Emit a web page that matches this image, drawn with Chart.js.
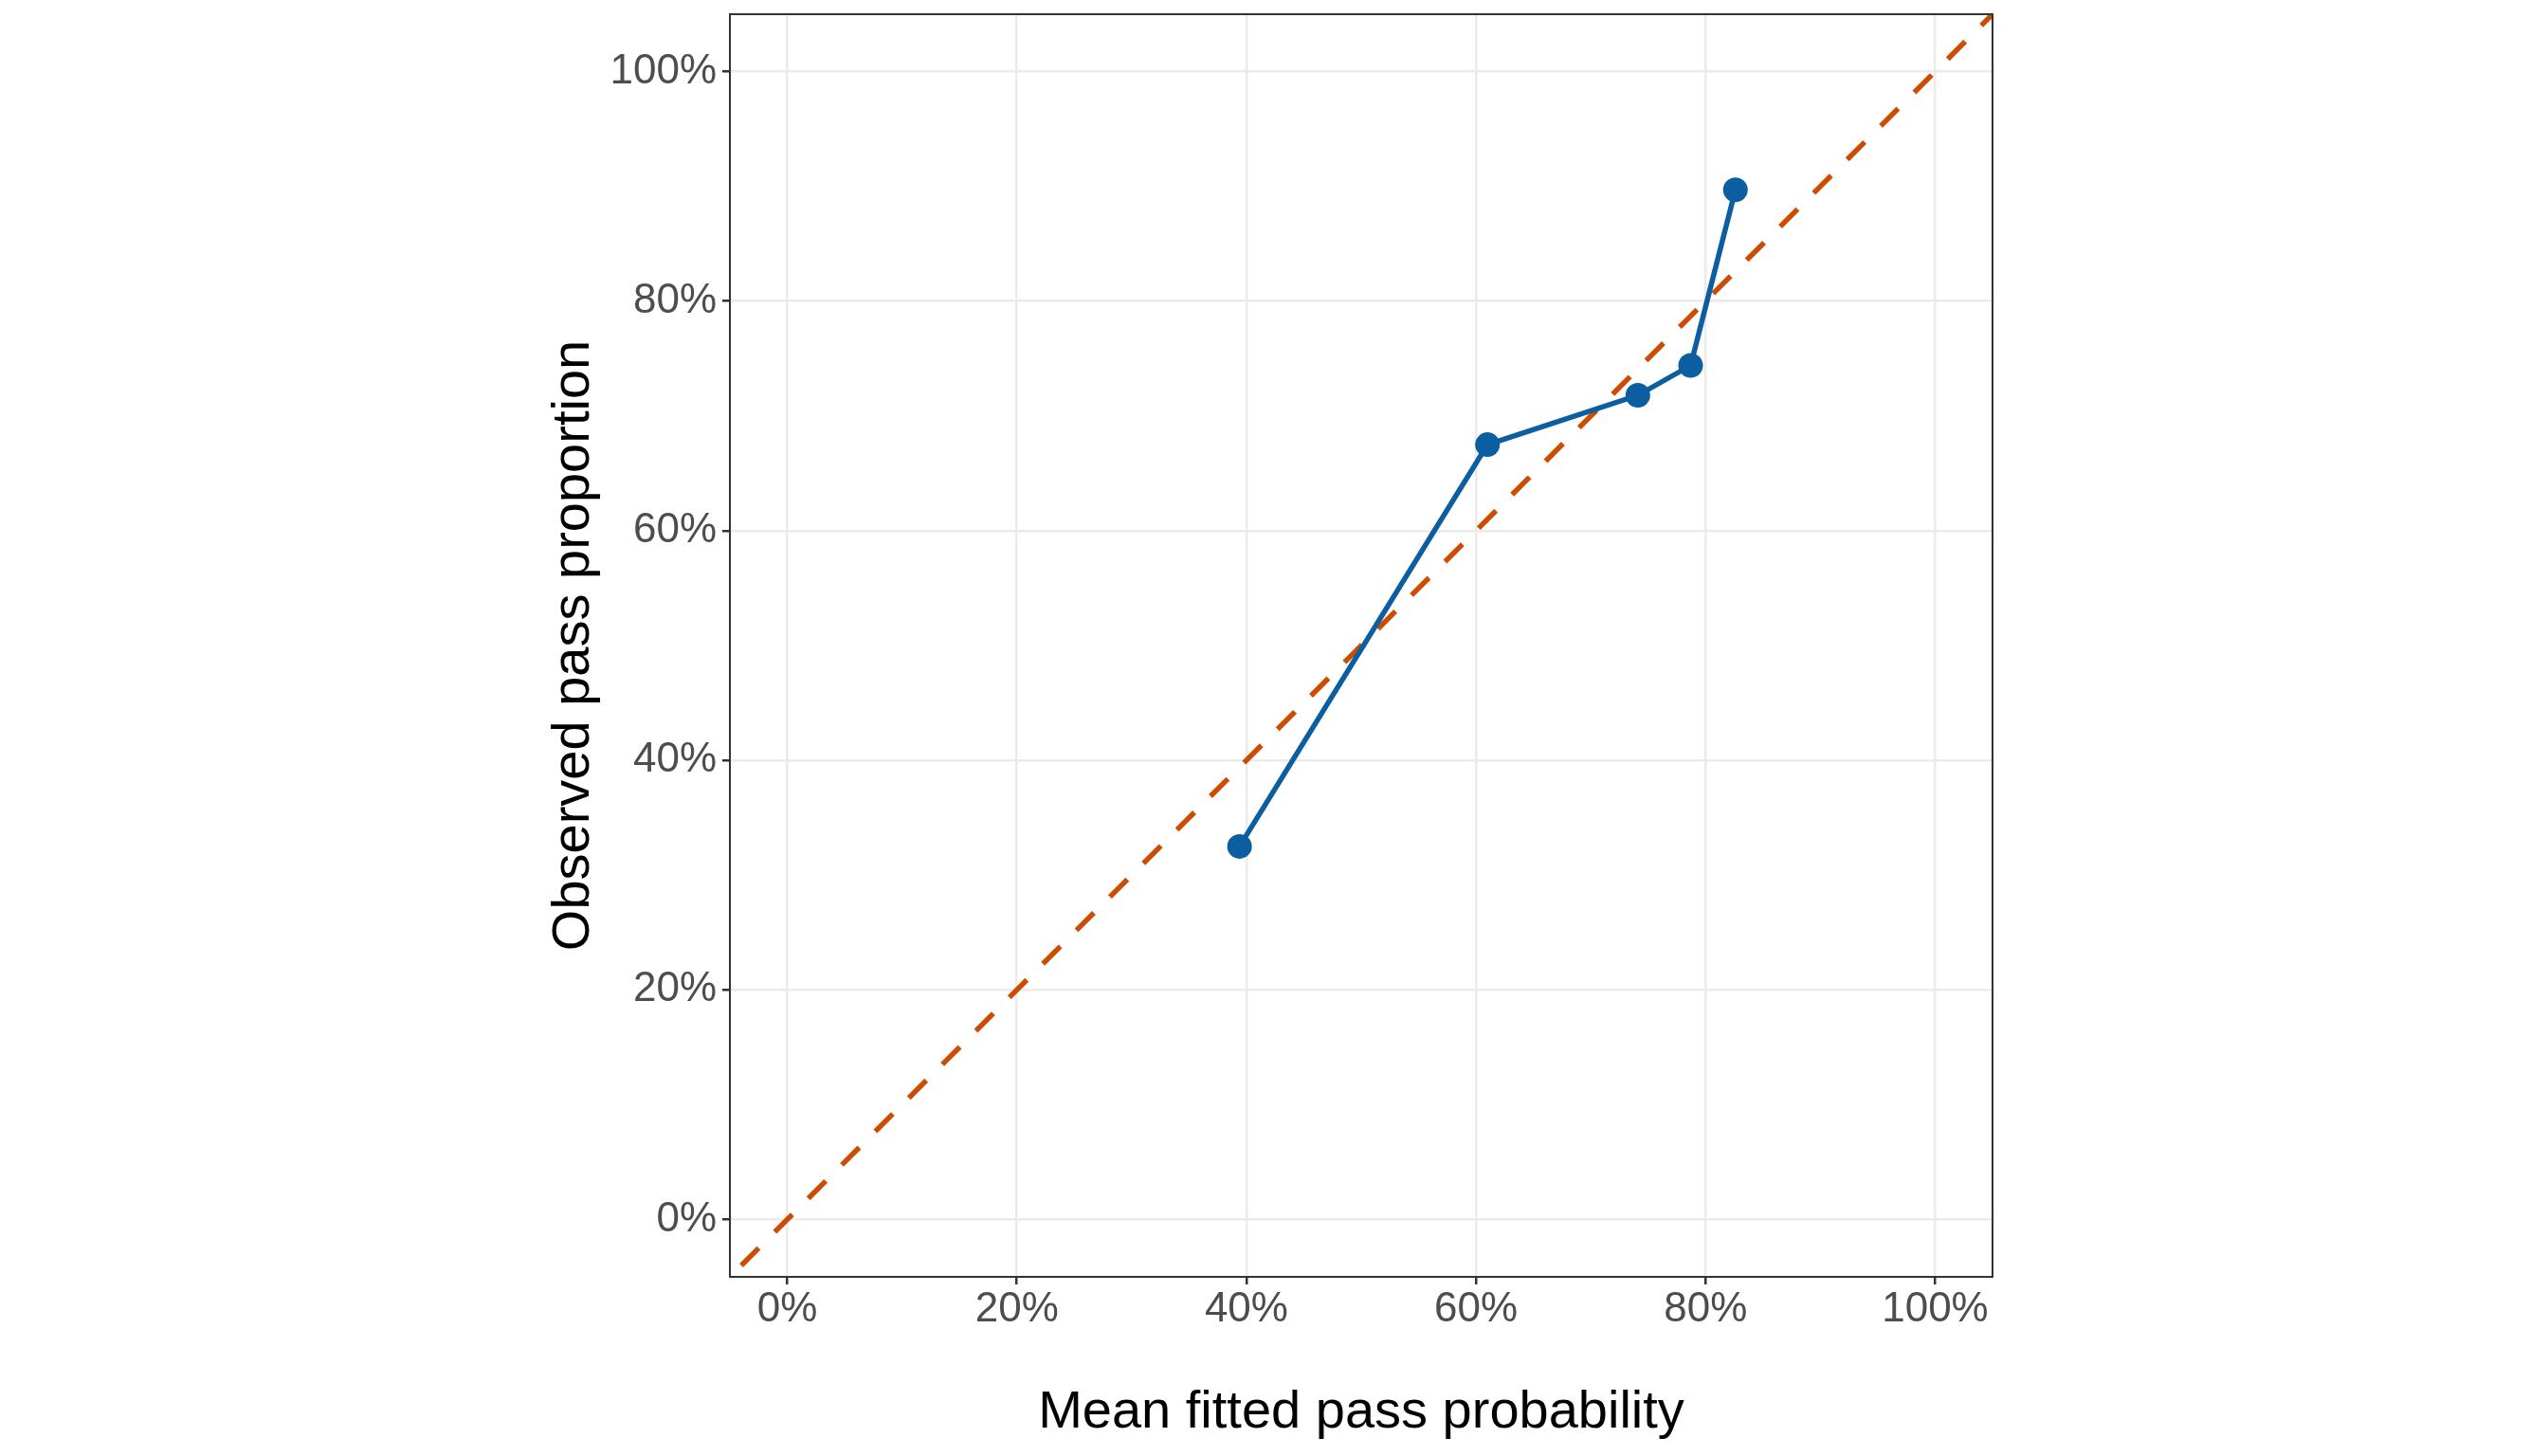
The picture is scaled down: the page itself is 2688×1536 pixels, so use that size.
<!DOCTYPE html>
<html>
<head>
<meta charset="utf-8">
<script src="https://cdn.jsdelivr.net/npm/chart.js@4.4.1/dist/chart.umd.min.js"></script>
<style>
    html, body { margin: 0; padding: 0; background: #ffffff; }
    #wrap { width: 2688px; height: 1536px; }
</style>
</head>
<body>
<div id="wrap"><canvas id="calibChart" width="2688" height="1536"></canvas></div>
<script>
// Calibration data: mean fitted probability per bin vs observed pass share
const meanFitted = [0.394, 0.610, 0.741, 0.787, 0.826];
const observedPass = [0.325, 0.675, 0.718, 0.744, 0.897];

// Reference y = x line, spans the full axis range
const refLine = [-0.05, 1.05];

// Axis ticks (shared by both axes)
const tickValues = [0, 0.2, 0.4, 0.6, 0.8, 1];
const axisMin = -0.05;
const axisMax = 1.05;

const blue = '#0b5ea0';
const orange = '#cc4c02';

Chart.defaults.font.family = "'Liberation Sans', Arial, sans-serif";

// Draw the dark panel border on top of the data, ggplot style
const panelBorder = {
    id: 'panelBorder',
    afterDatasetsDraw(chart) {
        const { ctx, chartArea: a } = chart;
        ctx.save();
        ctx.strokeStyle = '#333333';
        ctx.lineWidth = 2;
        ctx.strokeRect(a.left, a.top, a.right - a.left, a.bottom - a.top);
        ctx.restore();
    }
};

const pct = v => Math.round(v * 100) + '%';

const axisBase = (titleText, titlePadding, tickPadding, fitKey, fitSize) => ({
    type: 'linear',
    min: axisMin,
    max: axisMax,
    afterBuildTicks: scale => {
        scale.ticks = tickValues.map(v => ({ value: v }));
    },
    afterFit: scale => {
        // fixed axis band, no extra room for label overhang
        scale[fitKey] = fitSize;
        scale.paddingTop = 0;
        scale.paddingBottom = 0;
        scale.paddingLeft = 0;
        scale.paddingRight = 0;
    },
    border: { display: false },
    grid: {
        color: '#ebebeb',
        lineWidth: 2.5,
        drawTicks: true,
        tickLength: 8,
        tickColor: '#333333',
        tickWidth: 2.5
    },
    ticks: {
        autoSkip: false,
        maxRotation: 0,
        padding: tickPadding,
        color: '#4d4d4d',
        font: { size: 44 },
        callback: pct
    },
    title: {
        display: true,
        text: titleText,
        color: '#000000',
        font: { size: 56 },
        padding: titlePadding
    }
});

document.addEventListener('DOMContentLoaded', function() {
    const ctx = document.getElementById('calibChart').getContext('2d');

    new Chart(ctx, {
        type: 'scatter',
        data: {
            datasets: [{
                label: 'Observed',
                data: meanFitted.map((x, i) => ({ x: x, y: observedPass[i] })),
                showLine: true,
                borderColor: blue,
                backgroundColor: blue,
                borderWidth: 5.5,
                pointRadius: 13,
                pointBackgroundColor: blue,
                pointBorderWidth: 0,
                order: 0
            },
            {
                label: 'Perfect calibration',
                data: refLine.map(v => ({ x: v, y: v })),
                showLine: true,
                borderColor: orange,
                borderWidth: 5.5,
                borderDash: [26, 24],
                borderDashOffset: 33,
                borderCapStyle: 'butt',
                pointRadius: 0,
                order: 1
            }]
        },
        options: {
            responsive: false,
            devicePixelRatio: 1,
            animation: false,
            layout: {
                padding: { left: 570, right: 586, top: 15, bottom: 0 }
            },
            plugins: {
                legend: { display: false },
                tooltip: { enabled: false }
            },
            scales: {
                x: axisBase('Mean fitted pass probability', { top: 0, bottom: 12 }, 0, 'height', 189),
                y: axisBase('Observed pass proportion', { top: 2, bottom: 0 }, 6, 'width', 200)
            }
        },
        plugins: [panelBorder]
    });
});
</script>
</body>
</html>
